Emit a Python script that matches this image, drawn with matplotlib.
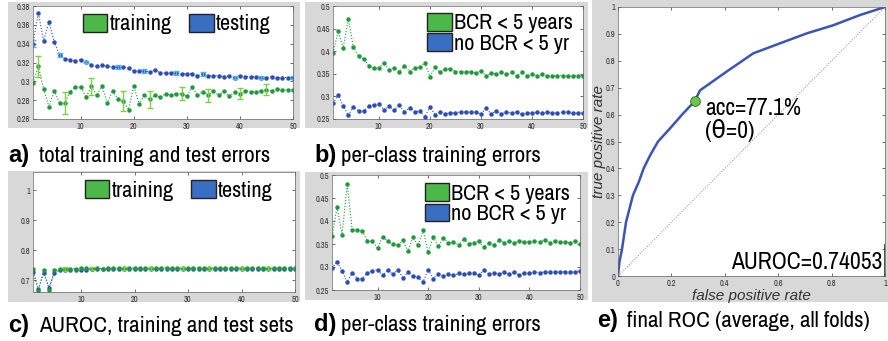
import numpy as np
import matplotlib.pyplot as plt
from matplotlib.patches import Rectangle, Patch

# ---- data ----
iters = np.arange(1, 51)

err_test = [0.340, 0.373, 0.343, 0.363, 0.342, 0.328, 0.324, 0.323, 0.322, 0.323,
            0.321, 0.317, 0.316, 0.317, 0.316, 0.315, 0.315, 0.315, 0.314, 0.311,
            0.311, 0.311, 0.310, 0.312, 0.309, 0.309, 0.309, 0.309, 0.308, 0.308,
            0.308, 0.306, 0.308, 0.306, 0.306, 0.306, 0.305, 0.306, 0.304, 0.306,
            0.305, 0.305, 0.305, 0.304, 0.304, 0.305, 0.304, 0.304, 0.304, 0.304]
err_train = [0.298, 0.316, 0.292, 0.273, 0.290, 0.277, 0.277, 0.289, 0.294, 0.294,
             0.283, 0.295, 0.285, 0.295, 0.277, 0.290, 0.281, 0.279, 0.270, 0.295,
             0.276, 0.285, 0.281, 0.285, 0.283, 0.287, 0.285, 0.287, 0.287, 0.284,
             0.294, 0.285, 0.289, 0.285, 0.290, 0.285, 0.290, 0.284, 0.289, 0.287,
             0.290, 0.289, 0.289, 0.290, 0.291, 0.290, 0.292, 0.291, 0.291, 0.291]
eb_train_idx = [2, 7, 12, 18, 23, 29, 34, 40, 45]
eb_train_err = [0.011, 0.012, 0.009, 0.011, 0.009, 0.007, 0.007, 0.006, 0.006]
eb_test_idx = [1, 6, 11, 17, 22, 28, 33, 39, 44, 50]
eb_test_err = [0.004, 0.002, 0.001, 0.002, 0.002, 0.002, 0.002, 0.002, 0.002, 0.002]

b_bcr = [0.396, 0.444, 0.407, 0.471, 0.409, 0.389, 0.383, 0.368, 0.363, 0.363,
         0.374, 0.358, 0.363, 0.355, 0.368, 0.355, 0.363, 0.364, 0.374, 0.344,
         0.364, 0.353, 0.361, 0.361, 0.355, 0.355, 0.355, 0.354, 0.352, 0.357,
         0.345, 0.351, 0.350, 0.353, 0.349, 0.353, 0.346, 0.353, 0.346, 0.349,
         0.346, 0.349, 0.346, 0.346, 0.346, 0.346, 0.345, 0.346, 0.346, 0.346]
b_nobcr = [0.285, 0.303, 0.279, 0.258, 0.277, 0.268, 0.268, 0.279, 0.281, 0.284,
           0.270, 0.278, 0.270, 0.281, 0.265, 0.275, 0.266, 0.267, 0.255, 0.277,
           0.259, 0.266, 0.261, 0.264, 0.263, 0.266, 0.265, 0.265, 0.265, 0.261,
           0.274, 0.261, 0.268, 0.261, 0.265, 0.263, 0.266, 0.261, 0.263, 0.263,
           0.265, 0.263, 0.265, 0.263, 0.263, 0.265, 0.265, 0.263, 0.263, 0.263]

auc_train = [0.737, 0.665, 0.733, 0.668, 0.733, 0.738, 0.737, 0.738, 0.738, 0.740,
             0.739, 0.738, 0.739, 0.738, 0.740, 0.740, 0.739, 0.740, 0.740, 0.740,
             0.740, 0.739, 0.740, 0.740, 0.739, 0.741, 0.740, 0.740, 0.740, 0.740,
             0.740, 0.740, 0.740, 0.740, 0.740, 0.740, 0.740, 0.740, 0.740, 0.740,
             0.740, 0.740, 0.740, 0.740, 0.740, 0.740, 0.740, 0.740, 0.740, 0.740]
auc_test = [0.726, 0.670, 0.722, 0.675, 0.722, 0.735, 0.733, 0.735, 0.735, 0.735,
            0.735, 0.736, 0.736, 0.736, 0.737, 0.737, 0.737, 0.737, 0.737, 0.737,
            0.737, 0.737, 0.737, 0.737, 0.737, 0.737, 0.737, 0.737, 0.737, 0.737,
            0.737, 0.737, 0.737, 0.737, 0.737, 0.737, 0.737, 0.737, 0.737, 0.737,
            0.737, 0.737, 0.737, 0.737, 0.737, 0.737, 0.737, 0.737, 0.737, 0.737]
eb_auc_idx = [7, 12, 18, 23, 29, 34, 40, 45]
eb_auc_err = [0.006, 0.005, 0.005, 0.005, 0.005, 0.005, 0.005, 0.005]

d_bcr = [0.367, 0.430, 0.370, 0.480, 0.380, 0.381, 0.378, 0.356, 0.356, 0.341,
         0.366, 0.356, 0.350, 0.347, 0.358, 0.334, 0.365, 0.347, 0.380, 0.333,
         0.365, 0.345, 0.363, 0.352, 0.354, 0.347, 0.361, 0.351, 0.353, 0.356,
         0.343, 0.352, 0.347, 0.358, 0.353, 0.356, 0.353, 0.356, 0.355, 0.355,
         0.356, 0.355, 0.358, 0.353, 0.356, 0.354, 0.354, 0.353, 0.356, 0.351]
d_nobcr = [0.297, 0.311, 0.291, 0.267, 0.288, 0.275, 0.275, 0.287, 0.292, 0.294,
           0.282, 0.293, 0.284, 0.294, 0.276, 0.289, 0.280, 0.278, 0.268, 0.294,
           0.275, 0.285, 0.280, 0.284, 0.282, 0.286, 0.284, 0.286, 0.286, 0.283,
           0.293, 0.284, 0.288, 0.284, 0.289, 0.284, 0.289, 0.282, 0.288, 0.286,
           0.289, 0.288, 0.289, 0.289, 0.289, 0.289, 0.290, 0.289, 0.290, 0.291]

roc_fpr = [0.0, 0.005, 0.015, 0.03, 0.056, 0.078, 0.096, 0.121, 0.15, 0.196,
           0.24, 0.2875, 0.307, 0.407, 0.507, 0.607, 0.707, 0.806, 0.906, 1.0]
roc_tpr = [0.0, 0.05, 0.10, 0.20, 0.30, 0.35, 0.40, 0.45, 0.50, 0.55,
           0.60, 0.65, 0.69, 0.76, 0.828, 0.865, 0.902, 0.932, 0.97, 1.0]
op_point = (0.2875, 0.65)

GREEN = '#1e9a3c'
BLUE = '#2c4cb8'
LGREEN = '#7fcf45'
LBLUE = '#4fb8e8'
PGREEN = '#4cb848'
PBLUE = '#3a6ec2'
GRAY_BG = '#d8d8d8'
NARROW = ['Liberation Sans Narrow', 'Archivo Narrow', 'DejaVu Sans']
PLAIN = ['Liberation Sans', 'DejaVu Sans']

W, H = 888, 341
plt.rcParams['font.family'] = NARROW
fig = plt.figure(figsize=(W / 100, H / 100), dpi=100)


def px_axes(l, t, r, b):
    return fig.add_axes([l / W, 1 - b / H, (r - l) / W, (b - t) / H])


def gray_box(l, t, r, b):
    fig.add_artist(Rectangle((l / W, 1 - b / H), (r - l) / W, (b - t) / H,
                             transform=fig.transFigure, facecolor=GRAY_BG,
                             edgecolor='none', zorder=-10))


def style(ax):
    ax.tick_params(direction='in', top=True, right=True, labelsize=6,
                   length=2.5, width=0.5, colors='#333333', pad=2)
    for s in ax.spines.values():
        s.set_linewidth(0.5)
        s.set_color('#666666')


def series(ax, y, c):
    ax.plot(iters, y, ':', color=c, lw=0.8)
    ax.plot(iters, y, 'o', color=c, ms=3.2, mew=0)


def caption(x, x2, y, letter, text):
    fig.text(x / W, 1 - y / H, letter, fontsize=17, fontweight='bold', va='baseline',
             family=PLAIN)
    fig.text(x2 / W, 1 - y / H, text, fontsize=16.5, va='baseline')


def legend(ax, labels, ncol, anchor):
    handles = [Patch(fc=PGREEN, ec='#222222', lw=1, label=labels[0]),
               Patch(fc=PBLUE, ec='#222222', lw=1, label=labels[1])]
    ax.legend(handles=handles, loc='upper right', ncol=ncol, bbox_to_anchor=anchor,
              frameon=False, fontsize=16, handlelength=1.1, handleheight=0.85,
              handletextpad=0.1, borderpad=0.0, labelspacing=0.0, columnspacing=0.8,
              borderaxespad=0.0)


for box in [(8, 2, 300, 128), (305, 2, 588, 128), (8, 171, 300, 302),
            (305, 172, 588, 300), (592, 0, 888, 302)]:
    gray_box(*box)

# a) total training and test errors
ax = px_axes(33, 6, 293, 119)
series(ax, err_test, BLUE)
series(ax, err_train, GREEN)
ax.errorbar(eb_train_idx, [err_train[i - 1] for i in eb_train_idx], yerr=eb_train_err,
            fmt='none', ecolor=LGREEN, elinewidth=1, capsize=2.5)
ax.errorbar(eb_test_idx, [err_test[i - 1] for i in eb_test_idx], yerr=eb_test_err,
            fmt='none', ecolor=LBLUE, elinewidth=1, capsize=2.5)
ax.set_xlim(1, 50)
ax.set_ylim(0.26, 0.38)
ax.set_xticks([10, 20, 30, 40, 50])
ax.set_yticks([0.26, 0.28, 0.3, 0.32, 0.34, 0.36, 0.38])
ax.set_yticklabels(['0.26', '0.28', '0.3', '0.32', '0.34', '0.36', '0.38'])
style(ax)
legend(ax, ['training', 'testing'], 2, (0.915, 0.93))
caption(8, 39, 162, 'a)', 'total training and test errors')

# b) per-class training errors
ax = px_axes(333, 6, 583, 119)
series(ax, b_bcr, GREEN)
series(ax, b_nobcr, BLUE)
ax.set_xlim(1, 50)
ax.set_ylim(0.25, 0.5)
ax.set_xticks([10, 20, 30, 40, 50])
ax.set_yticks([0.25, 0.3, 0.35, 0.4, 0.45, 0.5])
ax.set_yticklabels(['0.25', '0.3', '0.35', '0.4', '0.45', '0.5'])
style(ax)
legend(ax, ['BCR < 5 years', 'no BCR < 5 yr'], 1, (0.96, 0.94))
caption(314, 341, 162, 'b)', 'per-class training errors')

# c) AUROC, training and test sets
ax = px_axes(33, 172, 295, 292)
series(ax, auc_test, BLUE)
series(ax, auc_train, GREEN)
ax.errorbar(eb_auc_idx, [auc_train[i - 1] for i in eb_auc_idx], yerr=eb_auc_err,
            fmt='none', ecolor=LGREEN, elinewidth=1, capsize=2.5)
ax.set_xlim(1, 50)
ax.set_ylim(0.66, 1.06)
ax.set_xticks([10, 20, 30, 40, 50])
ax.set_yticks([0.7, 0.8, 0.9, 1.0])
ax.set_yticklabels(['0.7', '0.8', '0.9', '1'])
style(ax)
legend(ax, ['training', 'testing'], 2, (0.915, 0.93))
caption(8, 39, 332, 'c)', 'AUROC, training and test sets')

# d) per-class training errors
ax = px_axes(332, 175, 580, 290)
series(ax, d_bcr, GREEN)
series(ax, d_nobcr, BLUE)
ax.set_xlim(1, 50)
ax.set_ylim(0.25, 0.5)
ax.set_xticks([10, 20, 30, 40, 50])
ax.set_yticks([0.25, 0.3, 0.35, 0.4, 0.45, 0.5])
ax.set_yticklabels(['0.25', '0.3', '0.35', '0.4', '0.45', '0.5'])
style(ax)
legend(ax, ['BCR < 5 years', 'no BCR < 5 yr'], 1, (0.96, 0.93))
caption(314, 341, 331, 'd)', 'per-class training errors')

# e) final ROC
ax = px_axes(618, 7, 885, 276)
ax.plot([0, 1], [0, 1], ':', color='#888888', lw=0.7)
ax.plot(roc_fpr, roc_tpr, '-', color='#3a55b5', lw=1.8)
ax.plot(*op_point, 'o', mfc='#6cc644', mec='#2a6a1a', ms=7, mew=0.6)
ax.text(0.325, 0.66, 'acc=77.1%\n(\u03b8=0)', fontsize=17, va='top', ha='left',
        linespacing=1.0, family=['Archivo Narrow', 'DejaVu Sans'])
ax.text(0.99, 0.025, 'AUROC=0.74053', fontsize=17, va='baseline', ha='right')
ax.plot([0.995, 0.995], [0.0, 0.12], color='#333333', lw=0.6)
ax.set_xlim(0, 1)
ax.set_ylim(0, 1)
ax.set_xticks([0, 0.2, 0.4, 0.6, 0.8, 1])
ax.set_xticklabels(['0', '0.2', '0.4', '0.6', '0.8', '1'])
ax.set_yticks(np.arange(0, 1.01, 0.1))
ax.set_yticklabels(['0', '0.1', '0.2', '0.3', '0.4', '0.5', '0.6', '0.7', '0.8', '0.9', '1'])
style(ax)
ax.set_xlabel('false positive rate', fontsize=11, style='italic', labelpad=1,
              color='#333333', family=PLAIN)
ax.set_ylabel('true positive rate', fontsize=11, style='italic', labelpad=0,
              color='#333333', family=PLAIN)
caption(597, 627, 327, 'e)', 'final ROC (average, all folds)')

fig.savefig('out.png', dpi=100)
